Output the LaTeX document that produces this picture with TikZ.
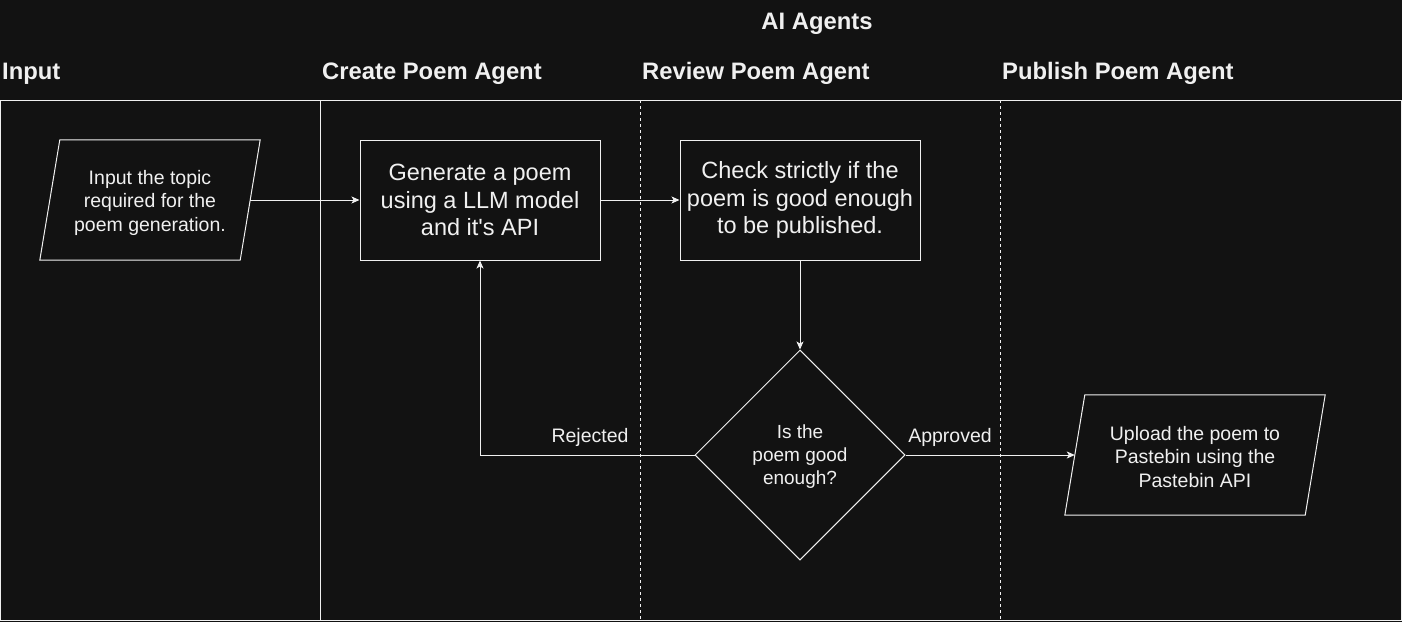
\documentclass[tikz,border=0pt]{standalone}
\usepackage{fontspec}
\setmainfont{Liberation Sans}[Ligatures=TeXOff]
\usetikzlibrary{arrows.meta,shapes.geometric}
\definecolor{bgc}{RGB}{18,18,18}
\definecolor{fg}{RGB}{240,240,240}
\tikzset{
  every node/.style={text=fg},
  hdr/.style={font=\bfseries\fontsize{23.8}{27}\selectfont, inner sep=0pt},
  boxbig/.style={draw=fg, line width=1pt, minimum width=240pt, minimum height=120pt, align=center, font=\fontsize{23.5}{27.5}\selectfont, inner sep=0pt},
  para/.style={minimum width=200pt, minimum height=120pt, align=center, font=\fontsize{19.5}{23.5}\selectfont, inner sep=0pt},
  dec/.style={diamond, draw=fg, line width=1pt, minimum width=210pt, minimum height=210pt, inner sep=0pt, align=center, font=\fontsize{19}{23}\selectfont},
  lbl/.style={font=\fontsize{19.5}{23}\selectfont, inner sep=0pt},
  arr/.style={draw=fg, line width=1pt, -{Stealth[length=8pt,width=7pt,inset=2pt]}},
  lane/.style={draw=fg, line width=1pt},
  dlane/.style={draw=fg, line width=1pt, dash pattern=on 3pt off 3pt},
}
\begin{document}
\begin{tikzpicture}[x=1pt,y=-1pt]
\useasboundingbox (0,0) rectangle (1402,622);
\fill[bgc] (0,0) rectangle (1402,622);
% frame and lanes
\draw[lane] (0.5,100) rectangle (1401,620);
\draw[lane] (320,100) -- (320,620);
\draw[dlane] (640,100) -- (640,620);
\draw[dlane] (1000,100) -- (1000,620);
% headers
\node[hdr] (hai) at (817,23.5) {AI Agents};
\node[hdr, anchor=west] (hin) at (2,73.5) {Input};
\node[hdr, anchor=west] (hcr) at (322,73.5) {Create Poem Agent};
\node[hdr, anchor=west] (hrv) at (642,73.5) {Review Poem Agent};
\node[hdr, anchor=west] (hpb) at (1002,73.5) {Publish Poem Agent};
% nodes
\node[para] (inp) at (150,200) {};
\node[para, yshift=-2.5pt] (inpt) at (inp) {Input the topic\\required for the\\poem generation.};
\draw[lane] ([xshift=10pt]inp.north west) -- ([xshift=10pt]inp.north east) -- ([xshift=-10pt]inp.south east) -- ([xshift=-10pt]inp.south west) -- cycle;
\node[boxbig] (gen) at (480,200) {Generate a poem\\using a LLM model\\and it's API};
\node[boxbig] (chk) at (800,200) {Check strictly if the\\poem is good enough\\to be published.};
\node[dec] (dia) at (800,455) {};
\node[align=center, font=\fontsize{19}{23}\selectfont, inner sep=0pt] (diat) at (800,457) {Is the\\poem good\\enough?};
\node[para, minimum width=240pt] (upl) at (1195,455) {};
\node[para, minimum width=240pt] (uplt) at (1195,457) {Upload the poem to\\Pastebin using the\\Pastebin API};
\draw[lane] ([xshift=10pt]upl.north west) -- ([xshift=10pt]upl.north east) -- ([xshift=-10pt]upl.south east) -- ([xshift=-10pt]upl.south west) -- cycle;
% connectors
\draw[arr] (inp.east) -- (gen.west);
\draw[arr] (gen.east) -- (chk.west);
\draw[arr] (chk.south) -- (dia.north);
\draw[arr] (dia.west) -| (gen.south);
\draw[arr] (dia.east) -- (upl.west);
\node[lbl] (rej) at (590,437) {Rejected};
\node[lbl] (app) at (950,437) {Approved};
\end{tikzpicture}
\end{document}
